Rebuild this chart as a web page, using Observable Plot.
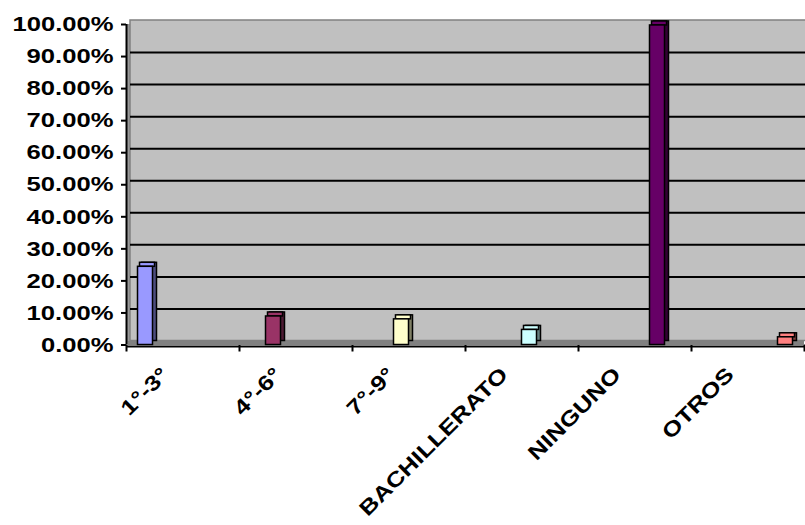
<!DOCTYPE html>
<html>
<head>
<meta charset="utf-8">
<script src="https://cdn.jsdelivr.net/npm/d3@7"></script>
<script src="https://cdn.jsdelivr.net/npm/@observablehq/plot@0.6"></script>
<style>
  body { margin: 0; background: white; }
  g[aria-label$="-axis tick"] { stroke-width: 2px; }
</style>
</head>
<body>
<div id="chart"></div>
<script>
const categories = ["1°-3°", "4°-6°", "7°-9°", "BACHILLERATO", "NINGUNO", "OTROS"];
const values = [0.244, 0.089, 0.080, 0.047, 0.997, 0.024];
const frontColors = ["#9999FF", "#993366", "#FFFFCC", "#CCFFFF", "#660066", "#FF8080"];
const sideColors = ["#4D4D80", "#4D1A33", "#808066", "#668080", "#330033", "#804040"];
const yTicks = [0, 0.1, 0.2, 0.3, 0.4, 0.5, 0.6, 0.7, 0.8, 0.9, 1.0];
const xTicks = [0, 1, 2, 3, 4, 5, 6];

// each category is its own series: slot i of 6 inside category i
const slot = d3.scaleBand().domain(categories).range([0, 1]).paddingOuter(0.767).paddingInner(0);
const rows = categories.map((c, i) => ({
  cat: c, i, value: values[i],
  x1: i + slot(c), x2: i + slot(c) + slot.bandwidth(),
  front: frontColors[i], side: sideColors[i]
}));

const plot = Plot.plot({
  width: 805,
  height: 525,
  marginLeft: 126,
  marginRight: 1,
  marginTop: 24,
  marginBottom: 180.5,
  style: {fontFamily: "'Liberation Sans', Arial, sans-serif", fontSize: "21px", fontWeight: "bold", color: "black", background: "white"},
  x: {domain: [0, 6], ticks: xTicks, tickFormat: () => "", tickSize: 7, label: null},
  y: {domain: [0, 1], ticks: yTicks, tickFormat: d3.format(".2%"), tickSize: 5, tickPadding: 8, label: null},
  color: {type: "identity"},
  marks: [
    // left wall + floor base
    Plot.rect([0], {x1: 0, x2: 6, y1: 0, y2: 1, fill: "#999999"}),
    // back wall
    Plot.rect([0], {x1: 0, x2: 6, y1: 0, y2: 1, fill: "#C0C0C0", stroke: "#808080", strokeWidth: 1.5, dx: 4, dy: -4}),
    // floor
    Plot.ruleY([0], {stroke: "#808080", strokeWidth: 4, dy: -2, insetLeft: 2}),
    // gridlines on back wall
    Plot.ruleY(yTicks.slice(1, -1), {stroke: "black", strokeWidth: 2, dx: 4, dy: -4}),
    // bar depth (side)
    Plot.rect(rows, {x1: "x1", x2: "x2", y1: 0, y2: "value", fill: "side", stroke: "black", strokeWidth: 1.5, dx: 4, dy: -4}),
    // bar top face
    Plot.rect(rows, {x1: "x1", x2: "x2", y1: "value", y2: "value", insetTop: -4, fill: "front", stroke: "black", strokeWidth: 1.5, dx: 2}),
    // bar front
    Plot.rect(rows, {x1: "x1", x2: "x2", y1: 0, y2: "value", fill: "front", stroke: "black", strokeWidth: 1.5}),
    // axis lines
    Plot.ruleY([0], {stroke: "black", strokeWidth: 2, dy: 1.5}),
    Plot.ruleX([0], {stroke: "black", strokeWidth: 2}),
    // category labels
    Plot.text(rows, {x: d => d.i + 0.5, frameAnchor: "bottom", text: "cat", rotate: -45, textAnchor: "end", dx: -13, dy: 31, fontSize: 21, fontWeight: "bold", fill: "black"})
  ]
});

document.getElementById("chart").appendChild(plot);
// widen glyphs horizontally like the original rendering
d3.select(plot).selectAll("text").each(function() {
  const w = this.getComputedTextLength();
  if (w > 0) {
    this.setAttribute("textLength", (w * 1.22).toFixed(1));
    this.setAttribute("lengthAdjust", "spacingAndGlyphs");
  }
});
</script>
</body>
</html>
